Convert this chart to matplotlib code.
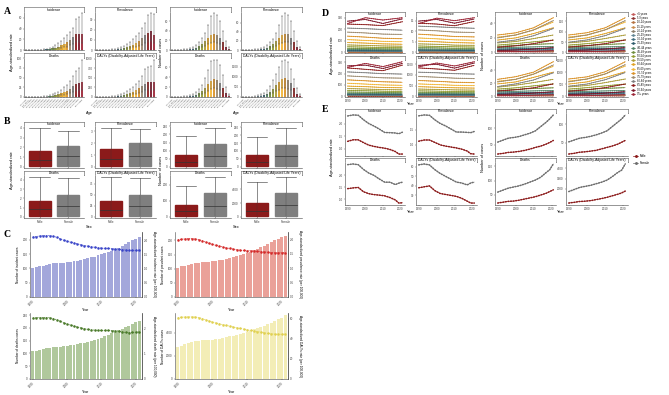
import matplotlib
matplotlib.use("Agg")
import matplotlib.pyplot as plt
from matplotlib.patches import Rectangle
import numpy as np

plt.rcParams["font.family"] = ["Liberation Sans", "DejaVu Sans"]

# ---------------- data ----------------
ages = ["<5 years", "5-9 years", "10-14 years", "15-19 years", "20-24 years", "25-29 years",
        "30-34 years", "35-39 years", "40-44 years", "45-49 years", "50-54 years", "55-59 years",
        "60-64 years", "65-69 years", "70-74 years", "75-79 years", "80-84 years", "85-89 years",
        "90-94 years", "95+ years"]
age_colors = ["#c45a5a", "#8b2e2e", "#b4703e", "#c98a4b", "#8a7a66", "#5f8391",
              "#3d6b7d", "#2b5a6a", "#4d8064", "#6d8c3a", "#8f9a2e", "#a99a35",
              "#e0a020", "#f2b535", "#d99025", "#9c8a6e", "#7d7d7d", "#8b1a1a",
              "#7a1428", "#9b2335"]
measures = ["Incidence", "Prevalence", "Deaths", "DALYs (Disability-Adjusted Life Years)"]

# panel A: age-specific rates (left) and counts (right): mean, lower, upper
a_rate = [
    [0.0, 0.0, 0.0, 0.1, 0.2, 0.3, 0.6, 1.0, 1.8, 2.8, 4.2, 6.0, 8.5, 11.0, 14.0, 19.0, 24.0, 30.0, 30.0, 29.0],
    [0.0, 0.0, 0.0, 0.1, 0.1, 0.2, 0.4, 0.7, 1.2, 1.8, 2.7, 3.8, 5.2, 7.0, 9.0, 11.5, 14.5, 17.0, 18.5, 15.0],
    [0.0, 0.0, 0.0, 0.1, 0.2, 0.4, 0.7, 1.2, 2.0, 3.2, 4.8, 6.8, 9.5, 12.5, 16.0, 21.0, 27.0, 33.0, 36.0, 38.0],
    [0, 0, 1, 2, 4, 7, 12, 20, 32, 50, 75, 105, 140, 180, 230, 290, 350, 390, 390, 390],
]
a_rate_lo = [
    [0.0, 0.0, 0.0, 0.0, 0.1, 0.1, 0.3, 0.5, 0.8, 1.3, 2.0, 2.8, 4.0, 5.2, 6.5, 9.0, 11.5, 14.0, 14.5, 13.0],
    [0.0, 0.0, 0.0, 0.0, 0.0, 0.1, 0.2, 0.3, 0.6, 0.9, 1.3, 1.8, 2.5, 3.3, 4.2, 5.4, 6.8, 8.0, 8.6, 7.0],
    [0.0, 0.0, 0.0, 0.0, 0.1, 0.2, 0.3, 0.6, 1.0, 1.5, 2.3, 3.2, 4.5, 6.0, 7.5, 10.0, 13.0, 16.0, 17.0, 18.0],
    [0, 0, 0, 1, 2, 3, 6, 10, 15, 24, 36, 50, 66, 85, 110, 140, 170, 185, 185, 185],
]
a_rate_hi = [
    [0.1, 0.1, 0.2, 0.3, 0.5, 0.8, 1.4, 2.3, 3.9, 6.0, 9.0, 12.5, 17.0, 22.0, 27.0, 34.0, 41.0, 58.0, 62.0, 68.0],
    [0.1, 0.1, 0.1, 0.2, 0.3, 0.5, 0.9, 1.5, 2.6, 3.8, 5.6, 7.8, 10.5, 13.5, 17.0, 21.5, 27.0, 34.0, 36.0, 35.0],
    [0.1, 0.2, 0.3, 0.4, 0.6, 1.0, 1.6, 2.6, 4.2, 6.5, 9.5, 13.5, 19.0, 25.0, 32.0, 42.0, 55.0, 66.0, 75.0, 96.0],
    [1, 2, 3, 6, 10, 16, 27, 44, 68, 100, 145, 200, 265, 340, 430, 560, 720, 780, 800, 980],
]
a_num = [
    [0.0, 0.1, 0.1, 0.2, 0.4, 0.8, 1.5, 2.6, 4.5, 7.5, 12.0, 18.0, 25.0, 31.0, 33.0, 31.0, 26.0, 16.0, 6.5, 2.0],
    [0.0, 0.1, 0.1, 0.2, 0.4, 0.8, 1.6, 2.8, 4.8, 8.0, 13.0, 19.0, 27.0, 33.0, 35.5, 34.0, 27.0, 17.0, 7.0, 2.2],
    [0.0, 0.1, 0.1, 0.2, 0.4, 0.8, 1.6, 2.8, 4.8, 8.0, 13.0, 19.0, 27.0, 33.0, 36.0, 35.0, 28.0, 18.0, 7.5, 2.4],
    [0, 2, 4, 8, 15, 30, 55, 95, 160, 260, 400, 580, 760, 880, 920, 860, 700, 420, 170, 55],
]
a_num_lo = [
    [0.0, 0.0, 0.0, 0.1, 0.2, 0.4, 0.7, 1.2, 2.1, 3.5, 5.5, 8.5, 12.0, 15.0, 16.0, 15.0, 12.5, 7.5, 3.0, 1.0],
    [0.0, 0.0, 0.0, 0.1, 0.2, 0.4, 0.8, 1.3, 2.3, 3.8, 6.2, 9.0, 13.0, 16.0, 17.0, 16.5, 13.0, 8.0, 3.3, 1.0],
    [0.0, 0.0, 0.0, 0.1, 0.2, 0.4, 0.8, 1.3, 2.3, 3.8, 6.2, 9.0, 13.0, 16.0, 17.5, 17.0, 13.5, 8.5, 3.5, 1.1],
    [0, 1, 2, 4, 7, 14, 26, 45, 76, 125, 190, 280, 365, 425, 445, 415, 335, 200, 80, 26],
]
a_num_hi = [
    [0.1, 0.2, 0.3, 0.6, 1.1, 2.0, 3.6, 6.0, 10.0, 16.0, 24.0, 36.0, 52.0, 70.0, 76.0, 72.0, 60.0, 40.0, 18.0, 6.0],
    [0.1, 0.2, 0.3, 0.6, 1.2, 2.1, 3.8, 6.4, 10.5, 17.0, 25.0, 38.0, 55.0, 74.0, 80.0, 76.0, 63.0, 42.0, 19.0, 6.5],
    [0.1, 0.2, 0.3, 0.6, 1.2, 2.1, 3.8, 6.4, 10.5, 17.0, 25.0, 38.0, 55.0, 72.0, 76.0, 75.0, 64.0, 44.0, 20.0, 7.0],
    [3, 6, 12, 22, 40, 75, 130, 220, 360, 560, 820, 1150, 1500, 1780, 1850, 1720, 1400, 900, 420, 150],
]
a_rate_ticks = [[0, 20, 40, 60], [0, 10, 20, 30], [0, 25, 50, 75, 100], [0, 250, 500, 750, 1000]]
a_num_ticks = [[0, 20, 40, 60], [0, 20, 40, 60], [0, 20, 40, 60], [0, 500, 1000, 1500]]

# panel B: box stats per sex [q1, median, q3, upper whisker]
sexes = ["Male", "Female"]
sex_colors = ["#8b1a1a", "#7f7f7f"]
b_rate_male = [[0.1, 0.75, 1.6, 4.0], [0.05, 0.65, 1.5, 3.3], [0.1, 0.8, 1.7, 4.3], [2, 15, 36, 90]]
b_rate_female = [[0.1, 1.1, 2.1, 3.65], [0.05, 0.9, 2.0, 3.2], [0.1, 1.2, 2.4, 4.2], [2, 25, 50, 88]]
b_num_male = [[3, 30, 70, 190], [3, 32, 75, 190], [3, 35, 75, 195], [80, 800, 1950, 5000]]
b_num_female = [[3, 65, 140, 240], [3, 68, 140, 245], [3, 70, 150, 250], [80, 1700, 3450, 5800]]
b_rate_ticks = [[0, 1, 2, 3, 4], [0, 1, 2, 3], [0, 1, 2, 3, 4], [0, 25, 50, 75]]
b_num_ticks = [[0, 50, 100, 150, 200, 250], [0, 50, 100, 150, 200, 250], [0, 100, 200], [0, 2000, 4000]]

# panel C: yearly counts (bars) and age-standardized rates (line)
years = list(range(1990, 2022))
c_inc_num = [100, 104, 107, 110, 113, 116, 118, 119, 120, 121, 122, 123, 125, 127, 130, 133,
             136, 139, 142, 146, 150, 154, 158, 163, 168, 173, 179, 185, 192, 199, 205, 210]
c_inc_rate = [2.12, 2.14, 2.16, 2.17, 2.17, 2.17, 2.15, 2.11, 2.06, 2.01, 1.97, 1.94, 1.91, 1.88, 1.85, 1.82,
              1.80, 1.78, 1.76, 1.74, 1.73, 1.72, 1.72, 1.71, 1.70, 1.69, 1.68, 1.66, 1.65, 1.65, 1.65, 1.66]
c_prev_num = [104, 108, 111, 114, 117, 120, 122, 123, 124, 125, 126, 128, 130, 132, 135, 138,
              141, 145, 149, 153, 157, 161, 166, 171, 176, 181, 187, 193, 200, 206, 211, 216]
c_prev_rate = [1.98, 2.00, 2.01, 2.02, 2.02, 2.01, 1.99, 1.95, 1.90, 1.86, 1.82, 1.79, 1.76, 1.73, 1.70, 1.68,
               1.66, 1.64, 1.62, 1.61, 1.60, 1.60, 1.59, 1.58, 1.57, 1.56, 1.55, 1.54, 1.53, 1.53, 1.53, 1.54]
c_dth_num = [108, 111, 114, 117, 120, 123, 125, 126, 127, 128, 129, 131, 133, 136, 139, 142,
             146, 150, 154, 158, 162, 167, 172, 178, 184, 190, 196, 202, 208, 215, 221, 226]
c_dth_rate = [2.42, 2.43, 2.44, 2.44, 2.44, 2.43, 2.40, 2.35, 2.29, 2.23, 2.18, 2.14, 2.10, 2.06, 2.03, 2.00,
              1.97, 1.95, 1.94, 1.93, 1.93, 1.93, 1.93, 1.92, 1.91, 1.89, 1.87, 1.85, 1.84, 1.85, 1.86, 1.87]
c_daly_num = [2800, 2890, 2980, 3070, 3160, 3250, 3300, 3330, 3350, 3370, 3400, 3440, 3490, 3550, 3610, 3680,
              3750, 3830, 3910, 4000, 4090, 4180, 4280, 4380, 4490, 4600, 4720, 4850, 4990, 5140, 5300, 5500]
c_daly_rate = [61.5, 61.8, 62.0, 62.1, 62.1, 62.0, 61.5, 60.5, 59.3, 58.0, 56.9, 56.0, 55.2, 54.4, 53.6, 52.8,
               52.0, 51.3, 50.6, 49.9, 49.2, 48.6, 48.0, 47.4, 46.8, 46.2, 45.6, 45.2, 44.9, 44.8, 44.8, 44.9]

# panel D: trends by age group (values at 1990, 2000, 2010, 2021)
years_d = [1990, 2000, 2010, 2021]
d_rate_inc = [
    [2, 2, 2, 2], [3, 3, 3, 3], [4, 4, 4, 4], [6, 6, 5, 5], [8, 8, 7, 7],
    [11, 10, 9, 9], [14, 13, 12, 12], [19, 18, 16, 16], [26, 24, 22, 21], [35, 33, 30, 29],
    [48, 45, 41, 40], [64, 60, 55, 53], [85, 80, 73, 70], [110, 103, 95, 92], [140, 132, 122, 118],
    [175, 168, 158, 155], [210, 205, 198, 192], [245, 240, 232, 265], [270, 285, 250, 290], [250, 300, 280, 300],
]
d_rate_prev = [
    [0.1, 0.1, 0.1, 0.1], [0.2, 0.2, 0.2, 0.2], [0.3, 0.3, 0.3, 0.3], [0.4, 0.4, 0.4, 0.4], [0.5, 0.5, 0.5, 0.5],
    [0.7, 0.7, 0.6, 0.6], [0.9, 0.9, 0.8, 0.8], [1.2, 1.1, 1.0, 1.0], [1.6, 1.5, 1.4, 1.4], [2.2, 2.1, 1.9, 1.9],
    [3.0, 2.8, 2.6, 2.5], [4.0, 3.8, 3.4, 3.3], [5.3, 5.0, 4.6, 4.4], [6.8, 6.4, 5.9, 5.7], [8.6, 8.1, 7.5, 7.3],
    [10.6, 10.2, 9.6, 9.4], [12.4, 12.1, 11.7, 11.4], [13.8, 13.4, 12.6, 14.6], [14.8, 15.6, 13.8, 15.8], [13.6, 16.2, 15.0, 16.4],
]
d_rate_dth = [
    [2, 2, 2, 2], [3, 3, 3, 3], [5, 5, 4, 4], [6, 6, 6, 5], [9, 8, 8, 7],
    [12, 11, 10, 10], [16, 15, 14, 13], [21, 20, 18, 17], [28, 26, 24, 23], [38, 36, 33, 32],
    [52, 49, 45, 43], [68, 64, 59, 57], [90, 85, 78, 75], [115, 108, 100, 97], [145, 137, 128, 124],
    [180, 172, 163, 160], [215, 208, 200, 196], [250, 238, 226, 275], [268, 275, 245, 290], [255, 290, 262, 305],
]
d_rate_daly = [
    [10, 10, 9, 9], [15, 14, 14, 13], [22, 21, 20, 19], [32, 30, 28, 27], [45, 42, 40, 38],
    [60, 57, 53, 51], [80, 76, 71, 68], [105, 100, 93, 90], [140, 133, 124, 120], [190, 180, 168, 163],
    [255, 242, 226, 218], [340, 322, 300, 290], [450, 426, 398, 385], [580, 550, 515, 500], [740, 705, 660, 640],
    [930, 895, 850, 830], [1130, 1105, 1060, 1040], [1330, 1280, 1220, 1450], [1450, 1500, 1320, 1560], [1380, 1560, 1420, 1620],
]
d_num_inc = [
    [1.0, 0.9, 0.8, 0.8], [0.8, 0.8, 0.7, 0.7], [1.2, 1.1, 1.0, 1.0], [1.6, 1.5, 1.4, 1.3], [2.2, 2.1, 2.0, 2.0],
    [2.8, 3.0, 2.8, 2.7], [3.5, 3.8, 3.9, 3.8], [4.5, 5.0, 5.4, 5.6], [6, 7, 7.5, 8], [8, 9.5, 11, 12],
    [10, 12, 14.5, 17], [13, 15, 19, 24], [17, 20, 26, 34], [21, 24, 31, 42], [24, 27, 34, 48],
    [20, 24, 31, 44], [14, 17, 23, 33], [7, 9, 12, 17], [2.5, 3.2, 4.5, 6.5], [0.8, 1.0, 1.5, 2.2],
]
d_num_prev = [
    [3.5, 3.2, 2.9, 2.8], [2.8, 2.7, 2.5, 2.4], [4.2, 3.9, 3.5, 3.5], [5.6, 5.3, 4.9, 4.6], [7.7, 7.4, 7.0, 7.0],
    [9.8, 10.5, 9.8, 9.5], [12, 13, 14, 13], [16, 18, 19, 20], [21, 25, 26, 28], [28, 33, 38, 42],
    [35, 42, 51, 60], [46, 53, 67, 84], [60, 70, 91, 119], [74, 84, 109, 147], [84, 95, 119, 168],
    [70, 84, 109, 154], [49, 60, 81, 116], [25, 32, 42, 60], [9, 11, 16, 23], [3, 3.5, 5, 8],
]
d_num_dth = [
    [1.1, 1.0, 0.9, 0.9], [0.9, 0.9, 0.8, 0.8], [1.3, 1.2, 1.1, 1.1], [1.8, 1.7, 1.5, 1.4], [2.4, 2.3, 2.2, 2.2],
    [3.1, 3.3, 3.1, 3.0], [3.9, 4.2, 4.3, 4.2], [5.0, 5.5, 5.9, 6.2], [6.6, 7.7, 8.3, 8.8], [8.8, 10.5, 12, 13],
    [11, 13, 16, 19], [14, 17, 21, 26], [19, 22, 29, 37], [23, 26, 34, 46], [26, 30, 37, 53],
    [22, 26, 34, 48], [15, 19, 25, 36], [8, 10, 13, 19], [2.8, 3.5, 5, 7], [0.9, 1.1, 1.7, 2.4],
]
d_num_daly = [
    [30, 28, 25, 24], [24, 23, 21, 20], [36, 33, 30, 30], [48, 45, 42, 40], [66, 63, 60, 60],
    [84, 90, 84, 81], [105, 114, 117, 114], [135, 150, 162, 168], [180, 210, 225, 240], [240, 285, 330, 360],
    [300, 360, 435, 510], [390, 450, 570, 720], [510, 600, 780, 1020], [630, 720, 930, 1260], [720, 810, 1020, 1440],
    [600, 720, 930, 1320], [420, 510, 690, 990], [210, 270, 360, 510], [75, 96, 135, 195], [24, 30, 45, 66],
]
d_rate_ticks = [[0, 100, 200, 300], [0, 5, 10, 15], [0, 100, 200, 300], [0, 500, 1000, 1500]]
d_num_ticks = [[0, 20, 40], [0, 50, 100, 150], [0, 20, 40], [0, 500, 1000, 1500]]

# panel E: trends by sex
years_e = [1990, 1993, 1996, 1999, 2002, 2005, 2008, 2011, 2014, 2017, 2019, 2021]
e_rate_male = [
    [1.30, 1.36, 1.36, 1.25, 1.15, 1.10, 1.06, 1.03, 0.98, 0.90, 0.80, 0.80],
    [1.12, 1.16, 1.16, 1.08, 1.00, 0.96, 0.93, 0.90, 0.86, 0.80, 0.71, 0.70],
    [1.45, 1.48, 1.50, 1.32, 1.24, 1.20, 1.18, 1.15, 1.08, 0.98, 0.85, 0.86],
    [38, 39, 40, 35, 32, 31, 30, 29, 27, 24, 22, 22],
]
e_rate_female = [
    [2.30, 2.34, 2.33, 2.15, 2.00, 1.90, 1.78, 1.65, 1.64, 1.63, 1.60, 1.66],
    [1.95, 1.98, 1.97, 1.82, 1.70, 1.62, 1.52, 1.42, 1.42, 1.41, 1.40, 1.44],
    [2.45, 2.48, 2.45, 2.25, 2.10, 2.00, 1.85, 1.72, 1.72, 1.62, 1.68, 1.72],
    [62, 63, 62, 57, 53, 50, 47, 44, 43, 41, 43, 44],
]
e_num_male = [
    [22, 24, 27, 28, 30, 33, 37, 42, 46, 52, 57, 63],
    [19, 21, 24, 25, 27, 29, 33, 37, 41, 46, 51, 56],
    [22, 25, 28, 29, 32, 36, 40, 44, 50, 56, 62, 68],
    [650, 720, 800, 830, 880, 980, 1080, 1200, 1350, 1500, 1620, 1800],
]
e_num_female = [
    [58, 64, 70, 72, 75, 80, 85, 92, 105, 118, 128, 140],
    [52, 57, 62, 64, 67, 71, 76, 82, 94, 106, 114, 125],
    [60, 67, 74, 78, 82, 88, 95, 102, 112, 128, 138, 158],
    [1750, 1950, 2150, 2250, 2350, 2500, 2650, 2850, 3200, 3600, 3800, 4400],
]
e_rate_ticks = [[1.0, 1.5, 2.0], [1.0, 1.5], [1.0, 1.5, 2.0], [30, 40, 50, 60]]
e_num_ticks = [[50, 100], [50, 100], [50, 100, 150], [2000, 3000, 4000]]

# ---------------- layout helpers ----------------
W, H = 669, 395
fig = plt.figure(figsize=(W / 100, H / 100), dpi=100)
TICK_FS = 2.2


def px_axes(x0, y0, x1, y1):
    return fig.add_axes([x0 / W, 1 - y1 / H, (x1 - x0) / W, (y1 - y0) / H])


def ftext(x, y, s, **kw):
    fig.text(x / W, 1 - y / H, s, **kw)


def style(ax, right=False):
    for side in ["top", "right"]:
        ax.spines[side].set_visible(False)
    for side in ["left", "bottom"] + (["right"] if right else []):
        ax.spines[side].set_visible(True)
        ax.spines[side].set_linewidth(0.4)
        ax.spines[side].set_color("#444444")
    ax.tick_params(labelsize=TICK_FS, length=1.0, width=0.3, pad=0.6, colors="#444444")


def facet(x0, x1, s0, s1, p1, title):
    st = px_axes(x0, s0, x1, s1)
    st.set_xticks([])
    st.set_yticks([])
    for sp in st.spines.values():
        sp.set_linewidth(0.4)
        sp.set_color("#555555")
    st.text(0.5, 0.45, title, ha="center", va="center", fontsize=2.4, transform=st.transAxes)
    ax = px_axes(x0, s1, x1, p1)
    style(ax)
    return ax


def panel_letter(x, y, s):
    ftext(x, y, s, fontsize=7, fontweight="bold", family="Liberation Serif", ha="left", va="center")


def dotted_line(ax, x, y, color, lw=0.9):
    ax.plot(x, y, color=color, lw=0.35)
    ax.plot(x, y, color=color, lw=lw, ls=(0, (0.6, 1.1)), dash_capstyle="round")


# ---------------- panel A ----------------
panel_letter(4, 12, "A")
a_rows = [(7, 12, 50), (53, 58, 97)]
a_groups = [([(24, 84), (95, 156)], a_rate, a_rate_lo, a_rate_hi, a_rate_ticks),
            ([(170, 231), (241, 302)], a_num, a_num_lo, a_num_hi, a_num_ticks)]
xa = np.arange(len(ages))
for cols, vals, los, his, ticks in a_groups:
    for i, m in enumerate(measures):
        s0, s1, p1 = a_rows[i // 2]
        x0, x1 = cols[i % 2]
        ax = facet(x0, x1, s0, s1, p1, m)
        v, lo, hi = np.array(vals[i]), np.array(los[i]), np.array(his[i])
        ax.errorbar(xa, v, yerr=[v - lo, hi - v], fmt="none", ecolor="#555555",
                    elinewidth=0.35, capsize=0.9, capthick=0.35, zorder=3)
        ax.bar(xa, v, width=0.85, color=age_colors, alpha=0.9, zorder=2)
        ax.set_xlim(-0.7, len(ages) - 0.3)
        ax.set_ylim(0, max(hi) * 1.04)
        ax.set_yticks(ticks[i])
        ax.set_xticks(xa)
        if i // 2 == 1:
            ax.set_xticklabels(ages, rotation=45, ha="right", fontsize=1.6, rotation_mode="anchor")
        else:
            ax.set_xticklabels([])
ftext(12, 52, "Age-standardized rate", rotation=90, fontsize=2.8, ha="center", va="center")
ftext(161, 52, "Number of cases", rotation=90, fontsize=2.8, ha="center", va="center")
ftext(89, 113, "Age", fontsize=2.8, ha="center", va="center")
ftext(236, 113, "Age", fontsize=2.8, ha="center", va="center")

# ---------------- panel B ----------------
panel_letter(4, 122, "B")
b_rows = [(122, 126, 168), (171, 175, 218)]
b_groups = [([(24, 84), (95, 156)], b_rate_male, b_rate_female, b_rate_ticks),
            ([(170, 231), (241, 302)], b_num_male, b_num_female, b_num_ticks)]
for cols, males, females, ticks in b_groups:
    for i, m in enumerate(measures):
        s0, s1, p1 = b_rows[i // 2]
        x0, x1 = cols[i % 2]
        ax = facet(x0, x1, s0, s1, p1, m)
        for j, stats in enumerate([males[i], females[i]]):
            q1, med, q3, top = stats
            xc = j + 1
            ax.plot([xc, xc], [0, top], color="#333333", lw=0.4, zorder=1)
            ax.plot([xc - 0.36, xc + 0.36], [top, top], color="#333333", lw=0.4, zorder=1)
            ax.add_patch(Rectangle((xc - 0.38, q1), 0.76, q3 - q1, color=sex_colors[j], zorder=2))
            ax.plot([xc, xc], [q1, q3], color="#333333", lw=0.3, alpha=0.6, zorder=3)
            ax.plot([xc - 0.38, xc + 0.38], [med, med], color="#333333", lw=0.5, zorder=3)
        ymax = max(males[i][3], females[i][3])
        ax.set_xlim(0.45, 2.55)
        ax.set_ylim(-ymax * 0.03, ymax * 1.05)
        ax.set_yticks(ticks[i])
        ax.set_xticks([1, 2])
        if i // 2 == 1:
            ax.set_xticklabels(sexes)
        else:
            ax.set_xticklabels([])
ftext(12, 170, "Age-standardized rate", rotation=90, fontsize=2.8, ha="center", va="center")
ftext(161, 170, "Number of cases", rotation=90, fontsize=2.8, ha="center", va="center")
ftext(89, 227, "Sex", fontsize=2.8, ha="center", va="center")
ftext(236, 227, "Sex", fontsize=2.8, ha="center", va="center")

# ---------------- panel C ----------------
panel_letter(4, 234, "C")
c_specs = [
    ((30, 232, 142, 297), c_inc_num, c_inc_rate, "#8c91d3", "#3a45c8", 228, 2.3,
     [0, 50, 100, 150, 200], [0.0, 0.5, 1.0, 1.5, 2.0],
     "Number of incident cases", "Age-standardized incidence rate (per 100,000)"),
    ((175, 232, 288, 297), c_prev_num, c_prev_rate, "#e58a80", "#d42a2a", 230, 2.25,
     [0, 50, 100, 150, 200], [0.0, 0.5, 1.0, 1.5, 2.0],
     "Number of prevalent cases", "Age-standardized prevalence rate (per 100,000)"),
    ((30, 313, 142, 379), c_dth_num, c_dth_rate, "#9dbb84", "#4a7a2a", 258, 2.62,
     [0, 50, 100, 150, 200, 250], [0, 1, 2],
     "Number of deaths cases", "Age-standardized death rate (per 100,000)"),
    ((175, 313, 288, 379), c_daly_num, c_daly_rate, "#f1e9a4", "#e0d050", 5700, 66,
     [0, 2000, 4000], [0, 20, 40, 60],
     "Number of DALYs cases", "Age-standardized DALYs rate (per 100,000)"),
]
for box, nums, rates, bcol, lcol, ymax, rmax, lt, rt, llab, rlab in c_specs:
    x0, y0, x1, y1 = box
    ax = px_axes(x0, y0, x1, y1)
    style(ax, right=True)
    ax.bar(years, nums, width=0.85, color=bcol, alpha=0.8)
    ax.set_xlim(1989.2, 2021.8)
    ax.set_ylim(0, ymax)
    ax.set_yticks(lt)
    ax.set_xticks([1990, 2000, 2010, 2020])
    ax.set_xticklabels(["1990", "2000", "2010", "2020"], rotation=45, ha="right", rotation_mode="anchor")
    ax2 = ax.twinx()
    for side in ["top", "left", "bottom"]:
        ax2.spines[side].set_visible(False)
    ax2.spines["right"].set_linewidth(0.4)
    ax2.spines["right"].set_color("#444444")
    ax2.tick_params(labelsize=TICK_FS, length=1.0, width=0.3, pad=0.6, colors="#444444")
    ax2.plot(years, rates, color=lcol, lw=0.5, ls=(0, (2, 1.2)), marker="o", ms=0.8)
    ax2.set_ylim(0, rmax)
    ax2.set_yticks(rt)
    ftext(x0 - 12, (y0 + y1) / 2, llab, rotation=90, fontsize=2.3, ha="center", va="center")
    ftext(x1 + 12, (y0 + y1) / 2, rlab, rotation=270, fontsize=2.3, ha="center", va="center")
    ftext((x0 + x1) / 2, y1 + 13, "Year", fontsize=2.6, ha="center", va="center")

# ---------------- panel D ----------------
panel_letter(322, 14, "D")
d_rows = [(12, 16, 53), (56, 60, 97)]
left_cols = [(345, 405), (416, 477)]
right_cols = [(495, 556), (566, 628)]
d_groups = [(left_cols, [d_rate_inc, d_rate_prev, d_rate_dth, d_rate_daly], d_rate_ticks),
            (right_cols, [d_num_inc, d_num_prev, d_num_dth, d_num_daly], d_num_ticks)]
for cols, tables, ticks in d_groups:
    for i, m in enumerate(measures):
        s0, s1, p1 = d_rows[i // 2]
        x0, x1 = cols[i % 2]
        ax = facet(x0, x1, s0, s1, p1, m)
        for k, row in enumerate(tables[i]):
            dotted_line(ax, years_d, row, age_colors[k], lw=0.8)
        ax.set_xlim(1988.5, 2022.5)
        ax.set_ylim(bottom=-max(max(r) for r in tables[i]) * 0.02)
        ax.set_yticks(ticks[i])
        ax.set_xticks([1990, 2000, 2010, 2020])
        if i // 2 == 0:
            ax.set_xticklabels([])
ftext(332, 55, "Age-standardized rate", rotation=90, fontsize=2.8, ha="center", va="center")
ftext(483, 55, "Number of cases", rotation=90, fontsize=2.8, ha="center", va="center")
ftext(411, 104, "Year", fontsize=2.8, ha="center", va="center")
ftext(561, 104, "Year", fontsize=2.8, ha="center", va="center")

lg = px_axes(630, 10, 669, 100)
lg.axis("off")
lg.set_xlim(0, 39)
lg.set_ylim(90, 0)
for k, age in enumerate(ages):
    yy = 4 + k * 4.2
    lg.plot([1, 5], [yy, yy], color=age_colors[k], lw=0.5)
    lg.plot([3], [yy], color=age_colors[k], marker="o", ms=0.9)
    lg.text(7, yy, age, fontsize=1.9, va="center", ha="left")

# ---------------- panel E ----------------
panel_letter(322, 110, "E")
e_rows = [(109, 113, 156), (158, 162, 205)]
e_groups = [(left_cols, e_rate_male, e_rate_female, e_rate_ticks),
            (right_cols, e_num_male, e_num_female, e_num_ticks)]
for cols, males, females, ticks in e_groups:
    for i, m in enumerate(measures):
        s0, s1, p1 = e_rows[i // 2]
        x0, x1 = cols[i % 2]
        ax = facet(x0, x1, s0, s1, p1, m)
        dotted_line(ax, years_e, females[i], "#6e6e6e", lw=1.1)
        dotted_line(ax, years_e, males[i], "#8b1a1a", lw=1.1)
        ax.set_xlim(1988.5, 2022.5)
        ax.set_yticks(ticks[i])
        ax.set_xticks([1990, 2000, 2010, 2020])
        if i // 2 == 0:
            ax.set_xticklabels([])
ftext(332, 157, "Age-standardized rate", rotation=90, fontsize=2.8, ha="center", va="center")
ftext(483, 157, "Number of cases", rotation=90, fontsize=2.8, ha="center", va="center")
ftext(411, 212, "Year", fontsize=2.8, ha="center", va="center")
ftext(561, 212, "Year", fontsize=2.8, ha="center", va="center")

le = px_axes(632, 151, 669, 169)
le.axis("off")
le.set_xlim(0, 37)
le.set_ylim(18, 0)
for k, (lab, col) in enumerate(zip(sexes, ["#8b1a1a", "#6e6e6e"])):
    yy = 5 + k * 7
    le.plot([1, 6], [yy, yy], color=col, lw=0.5)
    le.plot([3.5], [yy], color=col, marker="o", ms=1.1)
    le.text(8, yy, lab, fontsize=2.2, va="center", ha="left")

fig.savefig("out.png", dpi=100)
